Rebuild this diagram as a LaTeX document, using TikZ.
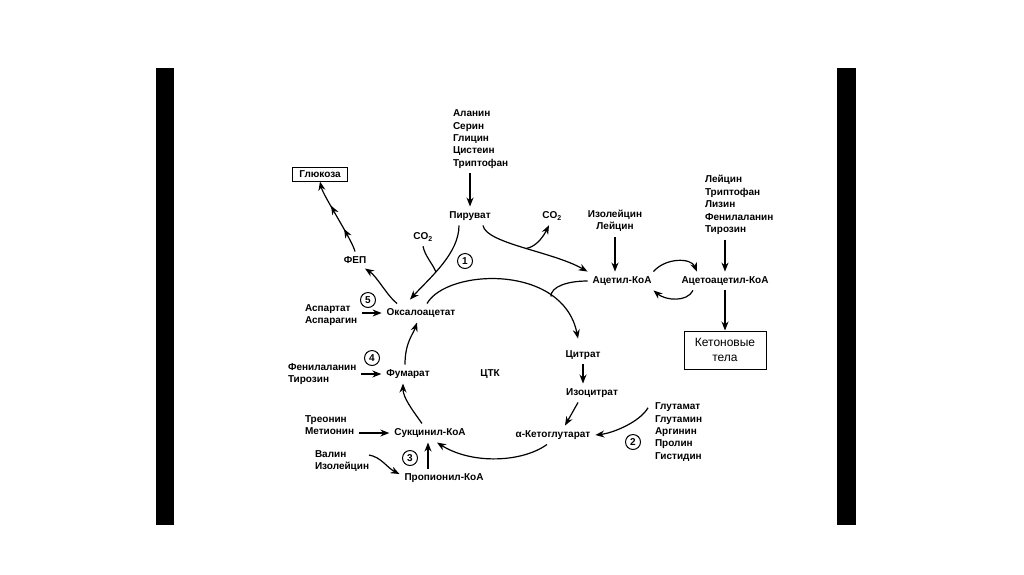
\documentclass[tikz,border=0pt]{standalone}
\usepackage{fontspec}
\setmainfont{Liberation Sans}
\usetikzlibrary{arrows.meta,decorations.markings}

\begin{document}
\begin{tikzpicture}[x=1pt, y=-1pt, line width=1.2pt,
  font=\fontsize{10}{12.4}\selectfont\bfseries, >={Stealth[length=9pt,width=7pt]},
  m/.style={inner sep=2pt, outer sep=3pt},
  l/.style={align=left, inner sep=2pt, outer sep=3pt, anchor=west},
  b/.style={rectangle, draw, line width=1pt, align=center},
  k/.style={circle, draw, line width=1pt, minimum size=15pt, inner sep=0pt},
  twoheads/.style={postaction={decorate}, decoration={markings,
    mark=at position 0.32 with {\arrow{>}}, mark=at position 0.66 with {\arrow{>}}}}]
  \fill[white] (0,0) rectangle (1024,574);
  \fill (156,68) rectangle (174,525);
  \fill (837,68) rectangle (856,525);
  % metabolites and sources
  \node[m] (pyr) at (470,216) {Пируват};
  \node[l] (src) at (448,139) {Аланин\\Серин\\Глицин\\Цистеин\\Триптофан};
  \node[m] (co2l) at (423,237) {CO\textsubscript{2}};
  \node[m] (co2r) at (552,216) {CO\textsubscript{2}};
  \node[m] (oaa) at (421,313) {Оксалоацетат};
  \node[k] (n1) at (465,261) {1};
  \node[m] (fep) at (355,260) {ФЕП};
  \node[b, minimum width=55pt, minimum height=14pt, inner sep=1pt] (glc) at (320,174) {Глюкоза};
  \node[m] (acoa) at (622,281) {Ацетил-КоА};
  \node[m, align=center] (ile) at (615,221) {Изолейцин\\Лейцин};
  \node[m] (aacoa) at (725,281) {Ацетоацетил-КоА};
  \node[l] (ketsrc) at (700,205) {Лейцин\\Триптофан\\Лизин\\Фенилаланин\\Тирозин};
  \node[b, font=\fontsize{12}{15}\selectfont, minimum width=82pt, minimum height=38pt, inner sep=1pt] (ket) at (725,350) {Кетоновые\\тела};
  \node[m] (cit) at (583,355) {Цитрат};
  \node[m] (icit) at (592,393) {Изоцитрат};
  \node[m] (akg) at (553,435) {α-Кетоглутарат};
  \node[l] (glusrc) at (650,432) {Глутамат\\Глутамин\\Аргинин\\Пролин\\Гистидин};
  \node[k] (n2) at (633,442) {2};
  \node[m] (suc) at (430,433) {Сукцинил-КоА};
  \node[m] (prop) at (444,478) {Пропионил-КоА};
  \node[k] (n3) at (410,458) {3};
  \node[l] (valsrc) at (310,461) {Валин\\Изолейцин};
  \node[l] (thrsrc) at (300,425) {Треонин\\Метионин};
  \node[m] (fum) at (408,374) {Фумарат};
  \node[l] (phesrc) at (283,374) {Фенилаланин\\Тирозин};
  \node[k] (n4) at (372,358) {4};
  \node[l] (aspsrc) at (300,315) {Аспартат\\Аспарагин};
  \node[k] (n5) at (368,300) {5};
  \node[m] (tca) at (490,374) {ЦТК};
  % pyruvate branch
  \draw[->] (src.south -| pyr.north) -- (pyr.north);
  \draw[->] ([xshift=-11pt]pyr.south) .. controls +(0,28) and +(20,-22) .. ([xshift=-11pt,yshift=4pt]oaa.north)
    coordinate[pos=0.6] (j1);
  \draw (co2l.south) .. controls +(2,10) and +(-3,-8) .. (j1);
  \draw[->] ([xshift=13pt]pyr.south) .. controls +(3,18) and +(-35,-20) .. (acoa.north west)
    coordinate[pos=0.52] (j2);
  \draw[->] (j2) .. controls +(12,-2) and +(-4,8) .. ([xshift=-3pt]co2r.south);
  % acetyl-CoA and ketone bodies
  \draw[->] (ile.south) -- (ile.south |- acoa.north);
  \draw[->] ([xshift=-3pt]acoa.north east) .. controls +(12,-14) and +(-6,-14) .. ([xshift=-28pt]aacoa.north);
  \draw[->] ([xshift=-32pt]aacoa.south) .. controls +(-6,12) and +(12,10) .. ([xshift=-3pt]acoa.south east);
  \draw[->] (aacoa.north |- ketsrc.south) -- (aacoa.north);
  \draw[->] (aacoa.south) -- (ket.north);
  % cycle
  \draw[->] ([xshift=6pt]oaa.north) .. controls +(20,-35) and +(-15,-75) .. ([xshift=-5pt,yshift=7pt]cit.north)
    coordinate[pos=0.75] (j3);
  \draw (acoa.west) .. controls +(-20,0) and +(0,-10) .. (j3);
  \draw[->] (cit.south) -- (cit.south |- icit.north);
  \draw[->] ([xshift=-14pt]icit.south) -- ([xshift=12pt]akg.north);
  \draw[->] ([xshift=-2pt,yshift=-10pt]glusrc.north west) .. controls +(-8,14) and +(18,-2) .. (akg.east);
  \draw[->] ([xshift=-6pt]akg.south) .. controls +(-25,18) and +(35,22) .. ([xshift=7pt]suc.south);
  \draw[->] ([xshift=-16pt]prop.north) -- ([xshift=-16pt]prop.north |- suc.south);
  \draw[->] ([xshift=-5pt,yshift=6pt]valsrc.east) .. controls +(12,2) and +(-12,-6) .. ([yshift=4pt]prop.west);
  \draw[->] (thrsrc.east |- suc.west) -- (suc.west);
  \draw[->] ([xshift=-8pt]suc.north) .. controls +(-10,-14) and +(0,14) .. ([xshift=-5pt]fum.south);
  \draw[->] (phesrc.east |- fum.west) -- (fum.west);
  \draw[->] ([xshift=-3pt]fum.north) .. controls +(0,-22) and +(-4,12) .. ([xshift=-4pt]oaa.south);
  \draw[->] (aspsrc.east |- oaa.west) -- (oaa.west);
  % gluconeogenesis
  \draw[->] ([xshift=-24pt]oaa.north) .. controls +(-10,-8) and +(12,8) .. ([xshift=10pt]fep.south);
  \draw[->, twoheads] (fep.north) .. controls +(-3,-12) and +(3,14) .. (glc.south);
\end{tikzpicture}
\end{document}
